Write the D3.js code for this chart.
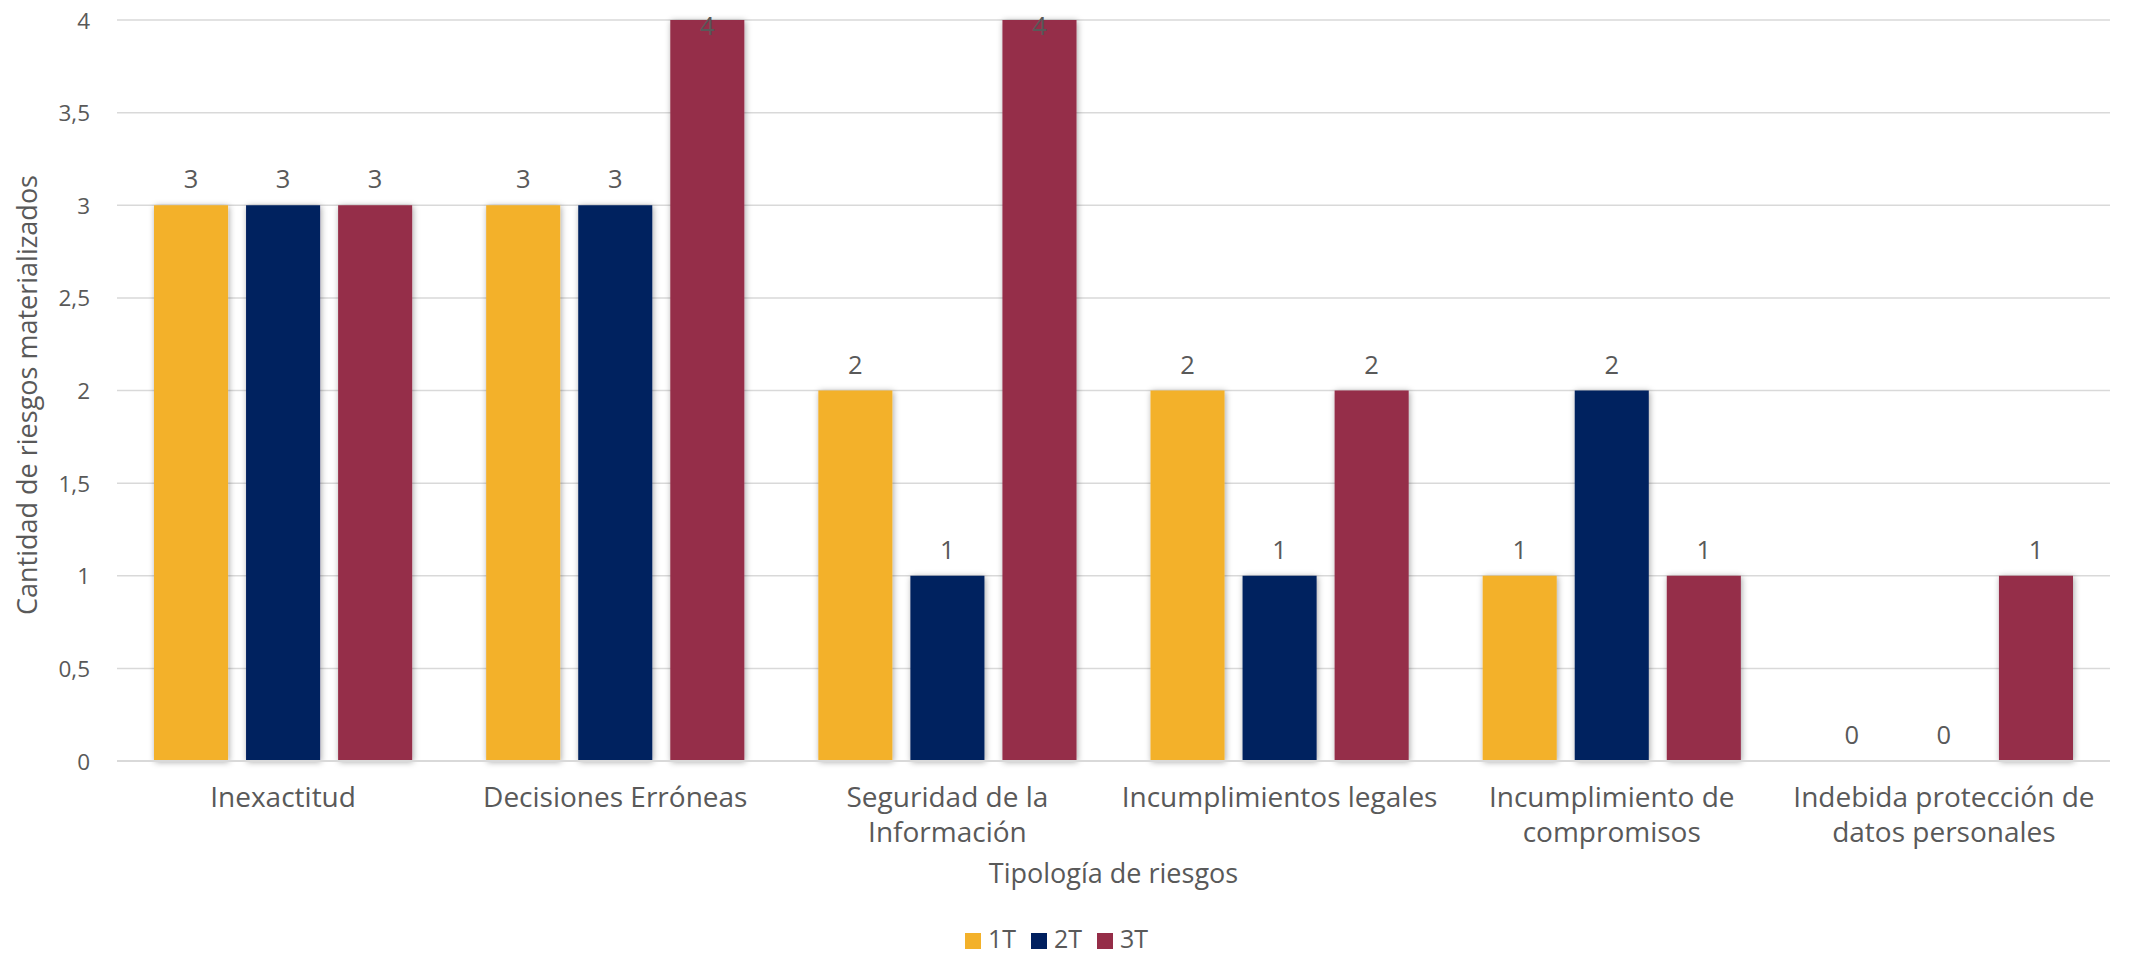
<!DOCTYPE html>
<html>
<head>
<meta charset="utf-8">
<script src="https://cdn.jsdelivr.net/npm/d3@7"></script>
<style>
  html, body { margin: 0; padding: 0; background: #fff; }
  svg text { font-family: "Open Sans", "Noto Sans", sans-serif; fill: #595959; }
</style>
</head>
<body>
<svg id="chart" width="2136" height="957"></svg>
<script>
// Risk typologies (each entry is the list of lines shown under the axis)
const categories = [
  ["Inexactitud"],
  ["Decisiones Erróneas"],
  ["Seguridad de la", "Información"],
  ["Incumplimientos legales"],
  ["Incumplimiento de", "compromisos"],
  ["Indebida protección de", "datos personales"]
];
const seriesNames = ["1T", "2T", "3T"];
const seriesColors = ["#F3B12A", "#00205F", "#952D48"];
const values1T = [3, 3, 2, 2, 1, 0];
const values2T = [3, 3, 1, 1, 2, 0];
const values3T = [3, 4, 4, 2, 1, 1];
const yTicks = [0, 0.5, 1, 1.5, 2, 2.5, 3, 3.5, 4];
const yTitle = "Cantidad de riesgos materializados";
const xTitle = "Tipología de riesgos";

const seriesValues = [values1T, values2T, values3T];

const svg = d3.select("#chart");
const plot = { left: 117, right: 2110, top: 20, bottom: 761 };

const catKeys = categories.map((c, i) => i);
const x0 = d3.scaleBand().domain(catKeys).range([plot.left, plot.right]).padding(0);
const x1 = d3.scaleBand().domain(seriesNames)
  .range([37, x0.bandwidth() - 37])
  .paddingInner(18 / 92).paddingOuter(0);
const y = d3.scaleLinear().domain([0, 4]).range([plot.bottom, plot.top]);

// soft drop shadow on the bars
const defs = svg.append("defs");
const f = defs.append("filter").attr("id", "shadow")
  .attr("x", "-20%").attr("y", "-5%").attr("width", "140%").attr("height", "110%");
f.append("feDropShadow").attr("dx", 1).attr("dy", 1).attr("stdDeviation", 3)
  .attr("flood-color", "#000").attr("flood-opacity", 0.35);

// horizontal gridlines
svg.append("g").selectAll("line").data(yTicks).join("line")
  .attr("x1", plot.left).attr("x2", plot.right)
  .attr("y1", d => y(d)).attr("y2", d => y(d))
  .attr("stroke", "#D9D9D9").attr("stroke-width", 1.5);

// y axis tick labels
const yAxis = d3.axisLeft(y).tickValues(yTicks).tickSize(0).tickPadding(0)
  .tickFormat(d => String(d).replace(".", ","));
const yg = svg.append("g").attr("transform", "translate(90,0)").call(yAxis);
yg.select(".domain").remove();
yg.selectAll("text").style("font-size", "22.5px").attr("fill", "#595959")
  .attr("dy", "0.36em");

// bars
const rows = [];
categories.forEach((c, i) => {
  seriesNames.forEach((s, j) => rows.push({ cat: i, s, j, v: seriesValues[j][i] }));
});

const bars = svg.append("g");
bars.selectAll("rect").data(rows.filter(d => d.v > 0)).join("rect")
  .attr("x", d => x0(d.cat) + x1(d.s))
  .attr("width", x1.bandwidth())
  .attr("y", d => y(d.v))
  .attr("height", d => y(0) - y(d.v))
  .attr("fill", d => seriesColors[d.j])
  .attr("filter", "url(#shadow)");

// bottom axis line above the bars' base
svg.append("line")
  .attr("x1", plot.left).attr("x2", plot.right)
  .attr("y1", y(0)).attr("y2", y(0))
  .attr("stroke", "#D9D9D9").attr("stroke-width", 2);

// value labels (kept inside the chart at the top)
svg.append("g").selectAll("text").data(rows).join("text")
  .attr("x", d => x0(d.cat) + x1(d.s) + x1.bandwidth() / 2)
  .attr("y", d => Math.max(y(d.v) - 17, 35))
  .attr("text-anchor", "middle")
  .style("font-size", "25.5px")
  .attr("fill", "#404040")
  .text(d => d.v);

// category labels
const cg = svg.append("g").selectAll("text").data(categories).join("text")
  .attr("text-anchor", "middle")
  .style("font-size", "28px");
cg.each(function (lines, i) {
  const t = d3.select(this);
  lines.forEach((ln, k) => {
    t.append("tspan")
      .attr("x", x0(i) + x0.bandwidth() / 2)
      .attr("y", 807 + k * 35)
      .text(ln);
  });
});

// axis titles
svg.append("text")
  .attr("x", (plot.left + plot.right) / 2).attr("y", 883)
  .attr("text-anchor", "middle").style("font-size", "27px")
  .text(xTitle);

svg.append("text")
  .attr("transform", "translate(37,395) rotate(-90)")
  .attr("text-anchor", "middle").style("font-size", "27px")
  .text(yTitle);

// legend
const lg = svg.append("g").attr("transform", "translate(965,933)");
const item = lg.selectAll("g").data(seriesNames).join("g")
  .attr("transform", (d, i) => `translate(${i * 66},0)`);
item.append("rect").attr("width", 16).attr("height", 16)
  .attr("fill", (d, i) => seriesColors[i]);
item.append("text").attr("x", 23).attr("y", 15)
  .style("font-size", "25px").text(d => d);
</script>
</body>
</html>
